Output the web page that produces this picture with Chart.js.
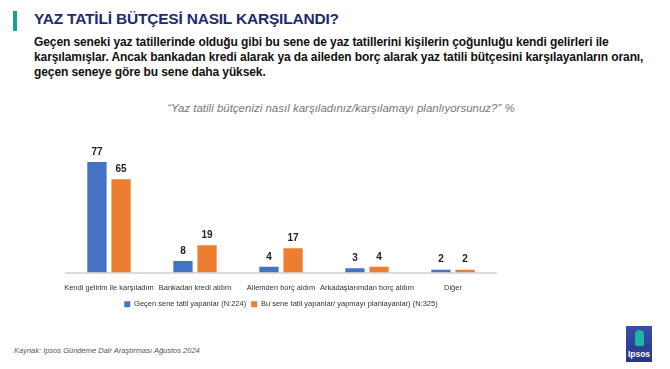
<!DOCTYPE html>
<html>
<head>
<meta charset="utf-8">
<script src="https://cdn.jsdelivr.net/npm/chart.js@4"></script>
<style>
  body { margin: 0; width: 670px; height: 369px; background: #fff; position: relative; overflow: hidden; font-family: "Liberation Sans", Arial, sans-serif; }
  .bar { position: absolute; left: 13px; top: 11px; width: 4px; height: 20px; background: #1aa096; }
  .title { position: absolute; left: 34px; top: 10px; font-size: 15.5px; font-weight: bold; color: #1e2a6e; letter-spacing: -0.2px; }
  .sub { position: absolute; left: 34px; top: 35px; font-size: 12px; font-weight: bold; color: #111; line-height: 15px; white-space: nowrap; letter-spacing: -0.1px; }
  .q { position: absolute; left: 6px; width: 670px; top: 102px; text-align: center; font-size: 11.5px; font-style: italic; color: #777; }
  .src { position: absolute; left: 14px; top: 346px; font-size: 7.5px; font-style: italic; color: #555; }
  .logo { position: absolute; left: 626px; top: 326px; width: 26px; height: 36px; background: linear-gradient(#3b4fa8, #27348b); color: #fff; font-size: 8.5px; font-weight: bold; text-align: center; box-sizing: border-box; padding-top: 23px; }
  .head { position: absolute; left: 9px; top: 4px; width: 9px; height: 16px; border-radius: 5px 5px 2px 2px; background: #1fb4a4; }
  #wrap { position: absolute; left: 0; top: 132px; width: 670px; height: 190px; }
</style>
</head>
<body>
<div class="bar"></div>
<div class="title">YAZ TATİLİ BÜTÇESİ NASIL KARŞILANDI?</div>
<div class="sub">Geçen seneki yaz tatillerinde olduğu gibi bu sene de yaz tatillerini kişilerin çoğunluğu kendi gelirleri ile<br>karşılamışlar. Ancak bankadan kredi alarak ya da aileden borç alarak yaz tatili bütçesini karşılayanların oranı,<br>geçen seneye göre bu sene daha yüksek.</div>
<div class="q">“Yaz tatili bütçenizi nasıl karşıladınız/karşılamayı planlıyorsunuz?” %</div>
<div id="wrap"><canvas id="chart"></canvas></div>
<div class="src">Kaynak: Ipsos Gündeme Dair Araştırması  Ağustos 2024</div>
<div class="logo"><div class="head"></div>Ipsos</div>
<script>
const categories = ['Kendi gelirim ile karşıladım', 'Bankadan kredi aldım', 'Ailemden borç aldım', 'Arkadaşlarımdan borç aldım', 'Diğer'];
const lastYear = [77, 8, 4, 3, 2];
const thisYear = [65, 19, 17, 4, 2];
const seriesNames = ['Geçen sene tatil yapanlar (N:224)', 'Bu sene tatil yapanlar/ yapmayı planlayanlar) (N:325)'];

// draws the value above each bar
const valueLabels = {
  id: 'valueLabels',
  afterDatasetsDraw(chart) {
    const ctx = chart.ctx;
    ctx.save();
    ctx.font = 'bold 10px "Liberation Sans", Arial, sans-serif';
    ctx.fillStyle = '#222';
    ctx.textAlign = 'center';
    ctx.textBaseline = 'bottom';
    chart.data.datasets.forEach((ds, i) => {
      chart.getDatasetMeta(i).data.forEach((bar, j) => {
        ctx.fillText(ds.data[j], bar.x, bar.y - 5);
      });
    });
    ctx.restore();
  }
};

new Chart(document.getElementById('chart'), {
  type: 'bar',
  data: {
    labels: categories,
    datasets: [
      { label: seriesNames[0], data: lastYear, backgroundColor: '#4472C4' },
      { label: seriesNames[1], data: thisYear, backgroundColor: '#ED7D31' }
    ]
  },
  options: {
    responsive: true,
    maintainAspectRatio: false,
    animation: false,
    categoryPercentage: 0.56,
    barPercentage: 0.8,
    layout: { padding: { left: 66, right: 174, top: 0, bottom: 4 } },
    plugins: {
      legend: {
        position: 'bottom',
        labels: { boxWidth: 6, boxHeight: 6, padding: 5, color: '#333', font: { size: 7.5 } }
      },
      tooltip: { enabled: false }
    },
    scales: {
      x: {
        grid: { display: false },
        border: { color: '#dcdcdc', width: 2 },
        ticks: { color: '#333', font: { size: 7.5 }, maxRotation: 0, autoSkip: false, padding: 3 }
      },
      y: { display: false, min: 0, max: 98 }
    }
  },
  plugins: [valueLabels]
});
</script>
</body>
</html>
